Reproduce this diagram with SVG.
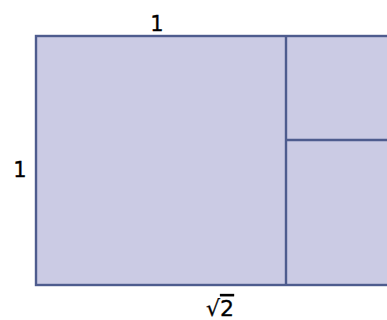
<svg xmlns="http://www.w3.org/2000/svg" width="387" height="320" viewBox="0 0 387 320">
<style>
.cell{fill:#cbcbe4;stroke:#4e5c8e;stroke-width:2.4}
.div{stroke:#4e5c8e;stroke-width:2.4;fill:none}
.lbl{font-family:"DejaVu Sans",Verdana,sans-serif;font-size:21px;fill:#000000;text-anchor:middle;stroke:#000000;stroke-width:0.3}
</style>
<rect width="387" height="320" fill="#ffffff"/>
<g id="rect">
<rect class="cell" x="36" y="36" width="360" height="249"/>
</g>
<g id="connectors">
<line class="div" x1="286" y1="36" x2="286" y2="285"/>
<line class="div" x1="286" y1="140" x2="396" y2="140"/>
</g>
<g id="labels">
<text class="lbl" x="157" y="31">1</text>
<text class="lbl" x="20" y="177">1</text>
<text class="lbl" x="220" y="316" style="font-size:22px">√<tspan text-decoration="overline">2</tspan></text>
</g>
</svg>
